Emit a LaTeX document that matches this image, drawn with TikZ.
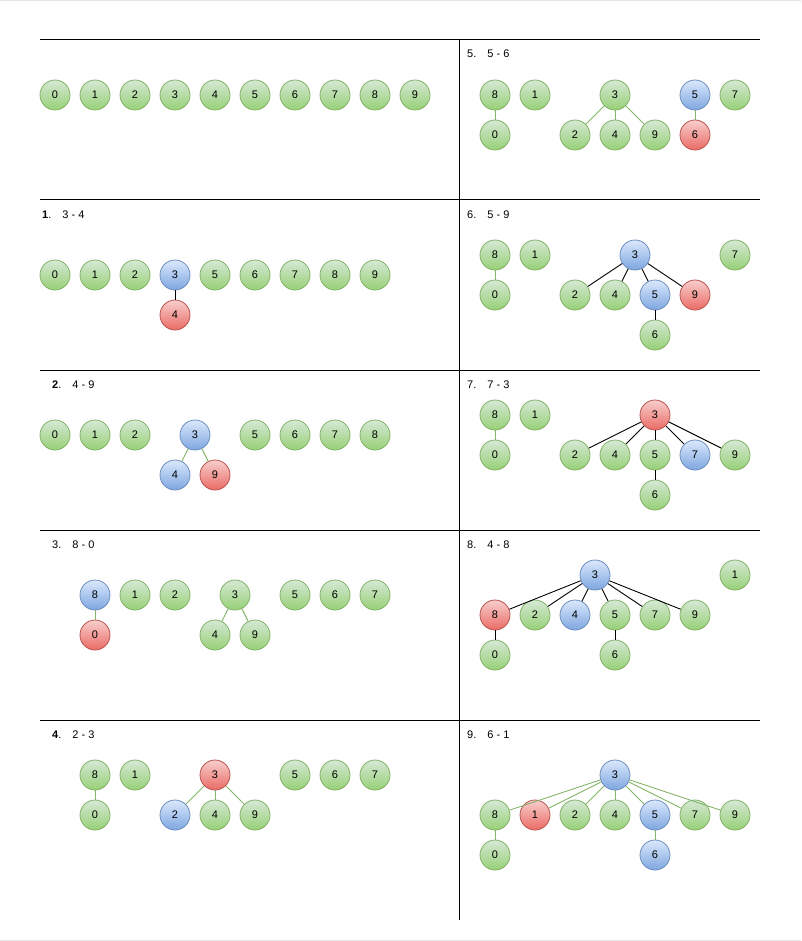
\documentclass[tikz,border=0pt]{standalone}
\usepackage{fontspec}
\setmainfont{Liberation Sans}
\definecolor{grntop}{HTML}{D5E8D4}
\definecolor{grnbot}{HTML}{97D077}
\definecolor{grnline}{HTML}{82B366}
\definecolor{blutop}{HTML}{DAE8FC}
\definecolor{blubot}{HTML}{7EA6E0}
\definecolor{bluline}{HTML}{6C8EBF}
\definecolor{redtop}{HTML}{F8CECC}
\definecolor{redbot}{HTML}{EA6B66}
\definecolor{redline}{HTML}{B85450}
\begin{document}
\begin{tikzpicture}[
  x=1pt, y=-1pt,
  vtx/.style={circle, draw=grnline, top color=grntop, bottom color=grnbot, minimum size=30pt, inner sep=0pt, line width=0.8pt, font=\fontsize{11}{13}\selectfont},
  vblue/.style={vtx, draw=bluline, top color=blutop, bottom color=blubot},
  vred/.style={vtx, draw=redline, top color=redtop, bottom color=redbot},
  gl/.style={draw=grnline, line width=0.9pt},
  bl/.style={draw=black, line width=0.9pt},
  lbl/.style={anchor=west, inner sep=0pt, font=\fontsize{11}{13}\selectfont},
  rule/.style={line width=1pt},
]
\useasboundingbox (0,0) rectangle (801,941);
\draw[gray!20] (0,0.5) -- (801,0.5);
\draw[gray!20] (0,940) -- (801,940);

% --- grid ---
\foreach \yy in {40,200,370,530,720}
  \draw[rule] (40,\yy) -- (760,\yy);
\draw[rule] (459,40) -- (459,920);

% --- start ---
\foreach \i in {0,...,9}
  \node[vtx] (a\i) at ({55+40*\i},95) {\i};

% --- 1. 3 - 4 ---
\node[lbl] (tb) at (42,215) {\textbf{1}.\hspace{11pt}3 - 4};
\foreach \n/\x in {0/55,1/95,2/135,5/215,6/255,7/295,8/335,9/375}
  \node[vtx] (b\n) at (\x,275) {\n};
\node[vblue] (b3) at (175,275) {3};
\node[vred] (b4) at (175,315) {4};
\draw[bl] (b3) -- (b4);

% --- 2. 4 - 9 ---
\node[lbl] (tc) at (52,385) {\textbf{2}.\hspace{11pt}4 - 9};
\foreach \n/\x in {0/55,1/95,2/135,5/255,6/295,7/335,8/375}
  \node[vtx] (c\n) at (\x,435) {\n};
\node[vblue] (c3) at (195,435) {3};
\node[vblue] (c4) at (175,475) {4};
\node[vred] (c9) at (215,475) {9};
\draw[gl] (c3) -- (c4);
\draw[gl] (c3) -- (c9);

% --- 3. 8 - 0 ---
\node[lbl] (td) at (52,545) {3.\hspace{11pt}8 - 0};
\foreach \n/\x in {1/135,2/175,3/235,5/295,6/335,7/375}
  \node[vtx] (d\n) at (\x,595) {\n};
\node[vblue] (d8) at (95,595) {8};
\node[vred] (d0) at (95,635) {0};
\node[vtx] (d4) at (215,635) {4};
\node[vtx] (d9) at (255,635) {9};
\draw[gl] (d8) -- (d0);
\draw[gl] (d3) -- (d4);
\draw[gl] (d3) -- (d9);

% --- 4. 2 - 3 ---
\node[lbl] (te) at (52,735) {\textbf{4}.\hspace{11pt}2 - 3};
\foreach \n/\x in {8/95,1/135,5/295,6/335,7/375}
  \node[vtx] (e\n) at (\x,775) {\n};
\node[vred] (e3) at (215,775) {3};
\node[vtx] (e0) at (95,815) {0};
\node[vblue] (e2) at (175,815) {2};
\node[vtx] (e4) at (215,815) {4};
\node[vtx] (e9) at (255,815) {9};
\draw[gl] (e8) -- (e0);
\foreach \n in {2,4,9}
  \draw[gl] (e3) -- (e\n);

% --- 5. 5 - 6 ---
\node[lbl] (tf) at (467,54) {5.\hspace{11pt}5 - 6};
\foreach \n/\x in {8/495,1/535,3/615,7/735}
  \node[vtx] (f\n) at (\x,95) {\n};
\node[vblue] (f5) at (695,95) {5};
\foreach \n/\x in {0/495,2/575,4/615,9/655}
  \node[vtx] (f\n) at (\x,135) {\n};
\node[vred] (f6) at (695,135) {6};
\draw[gl] (f8) -- (f0);
\foreach \n in {2,4,9}
  \draw[gl] (f3) -- (f\n);
\draw[gl] (f5) -- (f6);

% --- 6. 5 - 9 ---
\node[lbl] (tg) at (467,215) {6.\hspace{11pt}5 - 9};
\foreach \n/\x in {8/495,1/535,7/735}
  \node[vtx] (g\n) at (\x,255) {\n};
\node[vblue] (g3) at (635,255) {3};
\foreach \n/\x in {0/495,2/575,4/615}
  \node[vtx] (g\n) at (\x,295) {\n};
\node[vblue] (g5) at (655,295) {5};
\node[vred] (g9) at (695,295) {9};
\node[vtx] (g6) at (655,335) {6};
\draw[gl] (g8) -- (g0);
\foreach \n in {2,4,5,9}
  \draw[bl] (g3) -- (g\n);
\draw[bl] (g5) -- (g6);

% --- 7. 7 - 3 ---
\node[lbl] (th) at (467,385) {7.\hspace{11pt}7 - 3};
\node[vtx] (h8) at (495,415) {8};
\node[vtx] (h1) at (535,415) {1};
\node[vred] (h3) at (655,415) {3};
\foreach \n/\x in {0/495,2/575,4/615,5/655,9/735}
  \node[vtx] (h\n) at (\x,455) {\n};
\node[vblue] (h7) at (695,455) {7};
\node[vtx] (h6) at (655,495) {6};
\draw[gl] (h8) -- (h0);
\foreach \n in {2,4,5,7,9}
  \draw[bl] (h3) -- (h\n);
\draw[bl] (h5) -- (h6);

% --- 8. 4 - 8 ---
\node[lbl] (ti) at (467,545) {8.\hspace{11pt}4 - 8};
\node[vblue] (i3) at (595,575) {3};
\node[vtx] (i1) at (735,575) {1};
\node[vred] (i8) at (495,615) {8};
\foreach \n/\x in {2/535,5/615,7/655,9/695}
  \node[vtx] (i\n) at (\x,615) {\n};
\node[vblue] (i4) at (575,615) {4};
\node[vtx] (i0) at (495,655) {0};
\node[vtx] (i6) at (615,655) {6};
\foreach \n in {8,2,4,5,7,9}
  \draw[bl] (i3) -- (i\n);
\draw[bl] (i8) -- (i0);
\draw[bl] (i5) -- (i6);

% --- 9. 6 - 1 ---
\node[lbl] (tj) at (467,735) {9.\hspace{11pt}6 - 1};
\node[vblue] (j3) at (615,775) {3};
\foreach \n/\x in {8/495,2/575,4/615,7/695,9/735}
  \node[vtx] (j\n) at (\x,815) {\n};
\node[vred] (j1) at (535,815) {1};
\node[vblue] (j5) at (655,815) {5};
\node[vtx] (j0) at (495,855) {0};
\node[vblue] (j6) at (655,855) {6};
\foreach \n in {8,1,2,4,5,7,9}
  \draw[gl] (j3) -- (j\n);
\draw[gl] (j8) -- (j0);
\draw[gl] (j5) -- (j6);
\end{tikzpicture}
\end{document}
